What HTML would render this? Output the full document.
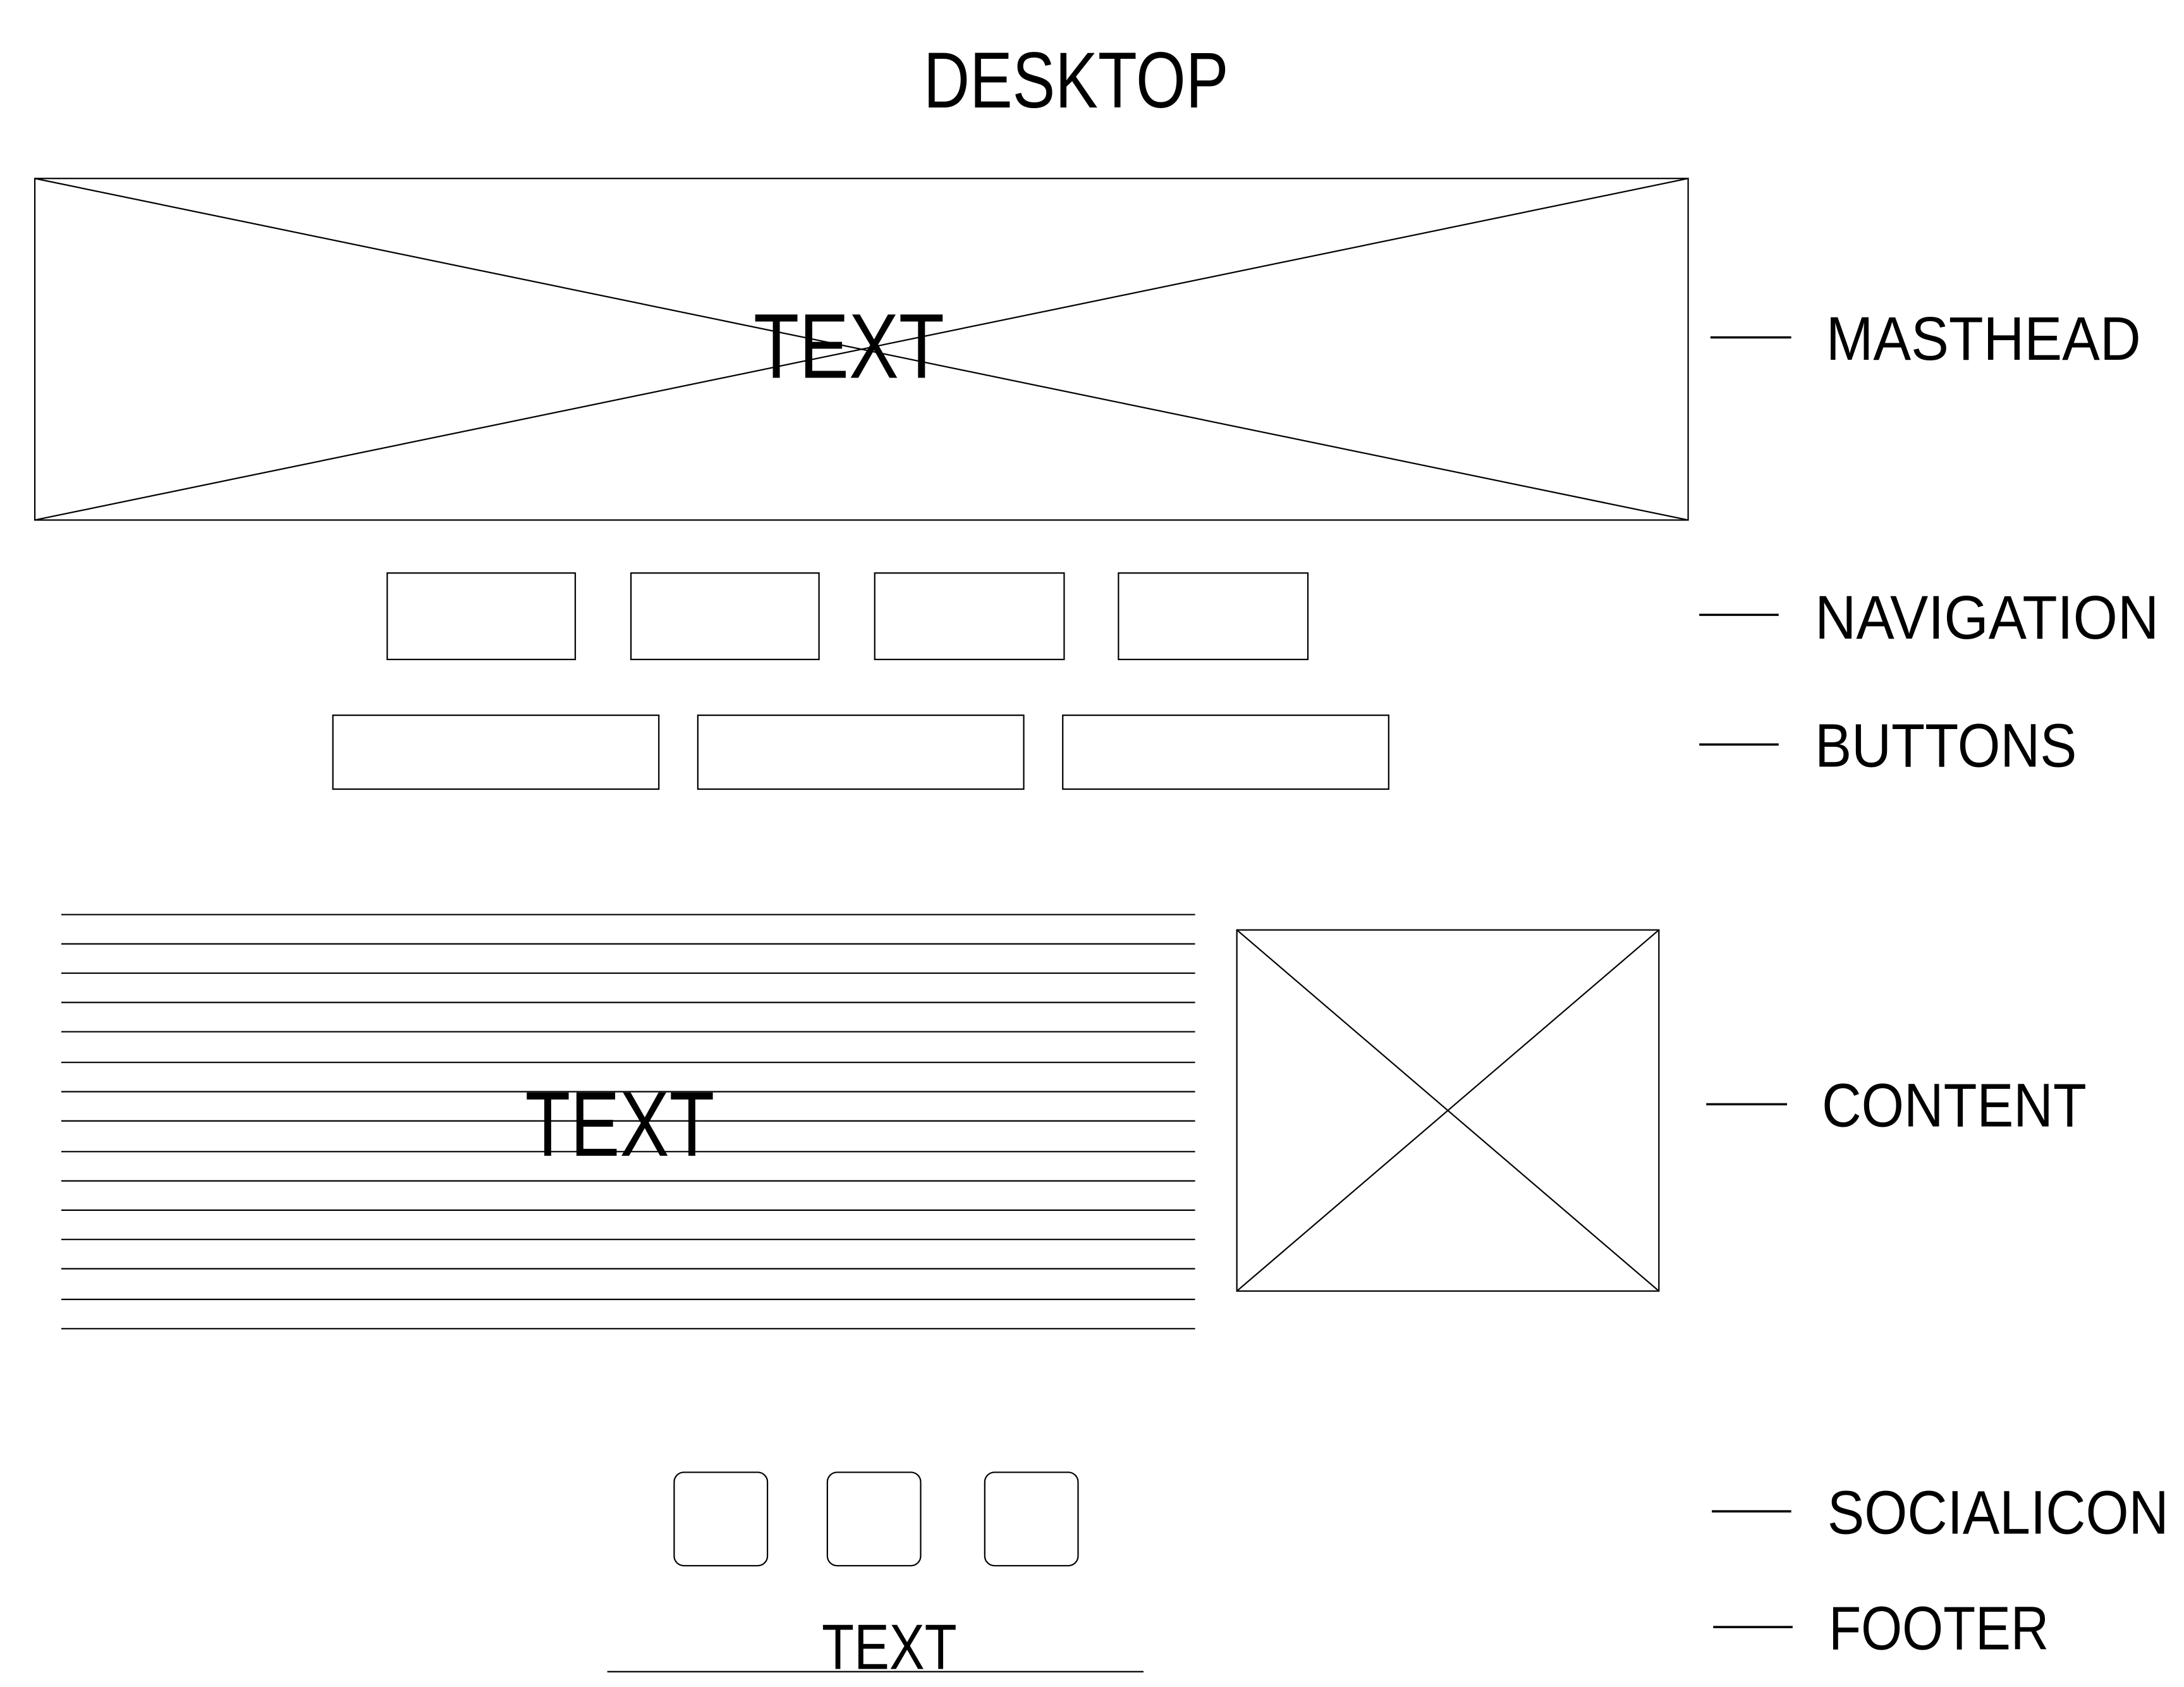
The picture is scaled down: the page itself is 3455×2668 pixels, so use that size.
<!DOCTYPE html>
<html><head><meta charset="utf-8"><style>
html,body{margin:0;padding:0;background:#fff;}
svg{display:block;}
text{font-family:"Liberation Sans",sans-serif;fill:#000;}
</style></head><body>
<svg width="3455" height="2668" viewBox="0 0 1568 1210" preserveAspectRatio="none" xmlns="http://www.w3.org/2000/svg">
<g fill="none" stroke="#000" stroke-width="1">
<rect x="25" y="128" width="1187" height="245"/>
<line x1="25" y1="128" x2="1212" y2="373"/>
<line x1="1212" y1="128" x2="25" y2="373"/>
<rect x="278" y="411" width="135" height="62"/>
<rect x="453" y="411" width="135" height="62"/>
<rect x="628" y="411" width="136" height="62"/>
<rect x="803" y="411" width="136" height="62"/>
<rect x="239" y="513" width="234" height="53"/>
<rect x="501" y="513" width="234" height="53"/>
<rect x="763" y="513" width="234" height="53"/>
<line x1="44" y1="656" x2="858" y2="656"/>
<line x1="44" y1="677" x2="858" y2="677"/>
<line x1="44" y1="698" x2="858" y2="698"/>
<line x1="44" y1="719" x2="858" y2="719"/>
<line x1="44" y1="740" x2="858" y2="740"/>
<line x1="44" y1="762" x2="858" y2="762"/>
<line x1="44" y1="783" x2="858" y2="783"/>
<line x1="44" y1="804" x2="858" y2="804"/>
<line x1="44" y1="826" x2="858" y2="826"/>
<line x1="44" y1="847" x2="858" y2="847"/>
<line x1="44" y1="868" x2="858" y2="868"/>
<line x1="44" y1="889" x2="858" y2="889"/>
<line x1="44" y1="910" x2="858" y2="910"/>
<line x1="44" y1="932" x2="858" y2="932"/>
<line x1="44" y1="953" x2="858" y2="953"/>
<rect x="888" y="667" width="303" height="259"/>
<line x1="888" y1="667" x2="1191" y2="926"/>
<line x1="1191" y1="667" x2="888" y2="926"/>
<rect x="484" y="1056" width="67" height="67" rx="7"/>
<rect x="594" y="1056" width="67" height="67" rx="7"/>
<rect x="707" y="1056" width="67" height="67" rx="7"/>
<line x1="436" y1="1199" x2="821" y2="1199"/>
<line x1="1228" y1="242" x2="1286" y2="242" stroke-width="1.6"/>
<line x1="1220" y1="441" x2="1277" y2="441" stroke-width="1.6"/>
<line x1="1220" y1="534" x2="1277" y2="534" stroke-width="1.6"/>
<line x1="1225" y1="792" x2="1283" y2="792" stroke-width="1.6"/>
<line x1="1229" y1="1084" x2="1286" y2="1084" stroke-width="1.6"/>
<line x1="1230" y1="1167" x2="1287" y2="1167" stroke-width="1.6"/>
</g>
<text x="663" y="77" font-size="57" textLength="219" lengthAdjust="spacingAndGlyphs">DESKTOP</text>
<text x="541" y="271" font-size="66" textLength="137" lengthAdjust="spacingAndGlyphs">TEXT</text>
<text x="377" y="829" font-size="66" textLength="136" lengthAdjust="spacingAndGlyphs">TEXT</text>
<text x="590" y="1197" font-size="46" textLength="97" lengthAdjust="spacingAndGlyphs">TEXT</text>
<text x="1311" y="258" font-size="44" textLength="226" lengthAdjust="spacingAndGlyphs">MASTHEAD</text>
<text x="1303" y="458" font-size="44" textLength="247" lengthAdjust="spacingAndGlyphs">NAVIGATION</text>
<text x="1303" y="550" font-size="44" textLength="188" lengthAdjust="spacingAndGlyphs">BUTTONS</text>
<text x="1308" y="808" font-size="44" textLength="190" lengthAdjust="spacingAndGlyphs">CONTENT</text>
<text x="1312" y="1100" font-size="44" textLength="245" lengthAdjust="spacingAndGlyphs">SOCIALICON</text>
<text x="1313" y="1183" font-size="44" textLength="158" lengthAdjust="spacingAndGlyphs">FOOTER</text>
</svg>
</body></html>
